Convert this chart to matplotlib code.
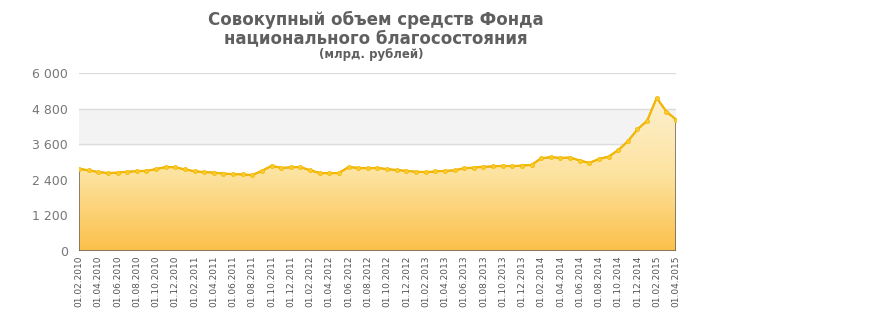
import numpy as np
import pandas as pd
import matplotlib
matplotlib.use("Agg")
import matplotlib.pyplot as plt
from matplotlib.patches import Polygon
from matplotlib.colors import LinearSegmentedColormap

# ---- data (bn rubles, monthly, 01.02.2010 .. 01.04.2015) ----
start_date = "2010-02-01"
end_date = "2015-04-01"
values = [2770, 2720, 2660, 2630, 2640, 2670, 2690, 2700, 2760, 2830,
          2820, 2750, 2690, 2660, 2640, 2610, 2590, 2580, 2560, 2700,
          2870, 2800, 2820, 2830, 2720, 2630, 2620, 2630, 2830, 2800,
          2790, 2800, 2760, 2730, 2700, 2670, 2660, 2680, 2700, 2720,
          2790, 2810, 2840, 2850, 2870, 2860, 2880, 2900, 3130, 3160,
          3140, 3150, 3050, 2970, 3100, 3180, 3400, 3700, 4100, 4390,
          5160, 4700, 4430]
y_ticks = [0, 1200, 2400, 3600, 4800, 6000]
y_tick_labels = ["0", "1 200", "2 400", "3 600", "4 800", "6 000"]
title_lines = ["Совокупный объем средств Фонда", "национального благосостояния"]
subtitle = "(млрд. рублей)"

dates = pd.date_range(start_date, end_date, freq="MS")
x = np.arange(len(values))
y = np.array(values, dtype=float)
tick_idx = x[::2]
tick_labels = [d.strftime("%d.%m.%Y") for d in dates[::2]]

fig = plt.figure(figsize=(8.69, 3.23), dpi=100)
ax = fig.add_axes([0.0909, 0.223, 0.687, 0.551])
ax.set_xlim(0, len(values) - 1)
ax.set_ylim(0, 6000)

# background band and grid
ax.axhspan(3600, 4800, color="#f3f3f3", zorder=0)
for t in y_ticks[1:]:
    ax.axhline(t, color="#dcdcdc", lw=1.0, zorder=0.5)

# gradient fill under the line
verts = [(x[0], 0)] + list(zip(x, y)) + [(x[-1], 0)]
poly = Polygon(verts, closed=True, facecolor="none", edgecolor="#5a5a5a", lw=1.0, zorder=2)
ax.add_patch(poly)
grad = np.linspace(0, 1, 256).reshape(-1, 1)
cmap = LinearSegmentedColormap.from_list("g", ["#fbc04a", "#fde3a0", "#fdf0cf"])
im = ax.imshow(grad, extent=[x[0], x[-1], 0, y.max()], origin="lower",
               aspect="auto", cmap=cmap, zorder=1)
im.set_clip_path(poly)

ax.plot(x, y, color="#f5b800", lw=1.6, zorder=3,
        marker="o", markersize=3.0, markerfacecolor="#f8cb30",
        markeredgecolor="#f5b800", markeredgewidth=0.5)

for s in ax.spines.values():
    s.set_visible(False)

ax.set_yticks(y_ticks)
ax.set_yticklabels(y_tick_labels, fontsize=9, color="#777777")
ax.set_xticks(tick_idx)
ax.set_xticklabels(tick_labels, rotation=90, fontsize=6.5, color="#555555")
ax.tick_params(axis="y", length=0, pad=8)
ax.tick_params(axis="x", length=0, pad=3)

fig.text(0.432, 0.938, title_lines[0], ha="center", va="center", fontsize=12,
         fontweight="bold", color="#5f5f5f")
fig.text(0.432, 0.882, title_lines[1], ha="center", va="center", fontsize=12,
         fontweight="bold", color="#5f5f5f")
fig.text(0.427, 0.830, subtitle, ha="center", va="center", fontsize=8.5,
         fontweight="bold", color="#5f5f5f")

fig.savefig("out.png", dpi=100, facecolor="white")
